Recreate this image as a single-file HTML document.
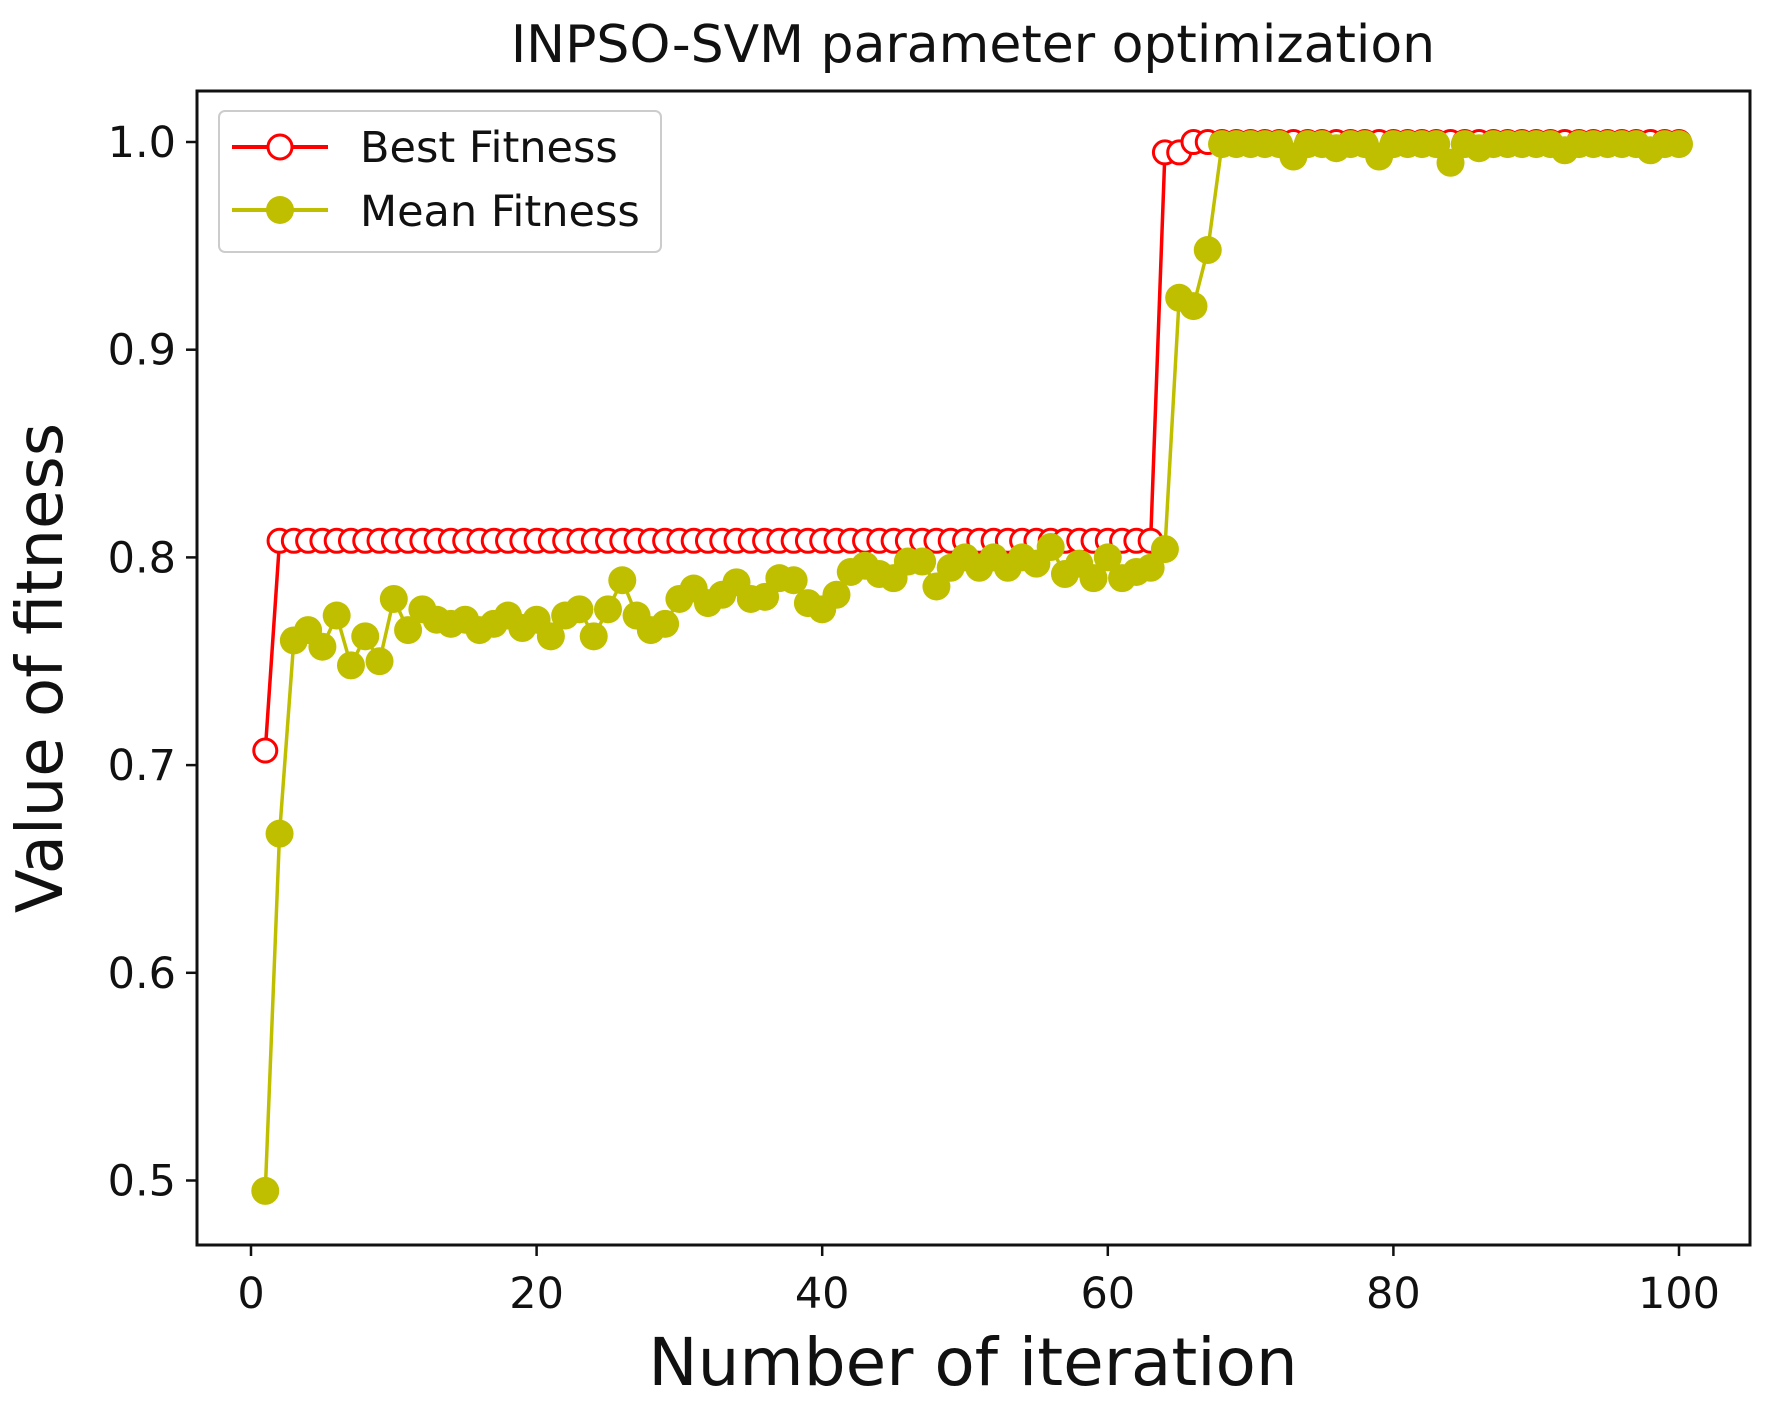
<!DOCTYPE html>
<html><head><meta charset="utf-8"><style>
html,body{margin:0;padding:0;background:#fff;}
svg{display:block;font-family:"DejaVu Sans","Liberation Sans",sans-serif;}
</style></head><body>
<svg id="s" width="1768" height="1406" viewBox="0 0 1768 1406" xmlns="http://www.w3.org/2000/svg">
<rect width="1768" height="1406" fill="#fff"/>
<text x="973" y="62" font-size="52" text-anchor="middle" fill="#111">INPSO-SVM parameter optimization</text>
<g id="plot"></g>
<rect x="197" y="91" width="1553" height="1154" fill="none" stroke="#111" stroke-width="3"/>
<g id="ticks" stroke="#111" stroke-width="2.5"></g>
<g id="labels" font-size="43" fill="#111"></g>
<text x="973" y="1385" font-size="66" text-anchor="middle" fill="#111">Number of iteration</text>
<text transform="translate(62,668) rotate(-90)" font-size="64" text-anchor="middle" fill="#111">Value of fitness</text>
<rect x="219" y="111" width="442" height="141" rx="6" fill="#fff" fill-opacity="0.9" stroke="#ccc" stroke-width="2"/>
<line x1="232" y1="147" x2="328" y2="147" stroke="#f00" stroke-width="4"/>
<circle cx="280" cy="147" r="12" fill="#fff" stroke="#f00" stroke-width="3"/>
<line x1="232" y1="210" x2="328" y2="210" stroke="#bfbf00" stroke-width="4"/>
<circle cx="280" cy="210" r="14" fill="#bfbf00"/>
<text x="360" y="162" font-size="43" fill="#111">Best Fitness</text>
<text x="360" y="226" font-size="43" fill="#111">Mean Fitness</text>
</svg>
<script>
var NS="http://www.w3.org/2000/svg";
function X(v){return 251+v*14.28;}
function Y(v){return 142+(1-v)*2077;}
function el(p,t,a){var e=document.createElementNS(NS,t);for(var k in a)e.setAttribute(k,a[k]);p.appendChild(e);return e;}
var plot=document.getElementById('plot'),ticks=document.getElementById('ticks'),labels=document.getElementById('labels');
[0,20,40,60,80,100].forEach(function(v){el(ticks,'line',{x1:X(v),y1:1245,x2:X(v),y2:1256});var t=el(labels,'text',{x:X(v),y:1308,'text-anchor':'middle'});t.textContent=v;});
[0.5,0.6,0.7,0.8,0.9,1.0].forEach(function(v){el(ticks,'line',{x1:186,y1:Y(v),x2:197,y2:Y(v)});var t=el(labels,'text',{x:176,y:Y(v)+15,'text-anchor':'end'});t.textContent=v.toFixed(1);});
var best=[];for(var i=1;i<=100;i++){best.push(i==1?0.707:i<=63?0.808:i<=65?0.995:1.0);}
var mean=[0.495,0.667,0.760,0.765,0.757,0.772,0.748,0.762,0.750,0.780,0.765,0.775,0.770,0.768,0.770,0.765,0.768,0.772,0.766,0.770,0.762,0.772,0.775,0.762,0.775,0.789,0.772,0.765,0.768,0.780,0.785,0.778,0.782,0.788,0.780,0.781,0.790,0.789,0.778,0.775,0.782,0.793,0.796,0.792,0.790,0.798,0.798,0.786,0.795,0.800,0.795,0.800,0.795,0.800,0.797,0.805,0.792,0.797,0.790,0.800,0.790,0.793,0.795,0.804,0.925,0.921,0.948];
var dips={73:0.993,79:0.993,84:0.990,92:0.996,98:0.996,76:0.997,86:0.997};
for(var i=68;i<=100;i++){mean.push(dips[i]||0.999);}
function pts(a){return a.map(function(v,i){return X(i+1)+','+Y(v);}).join(' ');}
el(plot,'polyline',{points:pts(best),fill:'none',stroke:'#f00','stroke-width':3.5});
best.forEach(function(v,i){el(plot,'circle',{cx:X(i+1),cy:Y(v),r:11.5,fill:'#fff',stroke:'#f00','stroke-width':3});});
el(plot,'polyline',{points:pts(mean),fill:'none',stroke:'#bfbf00','stroke-width':3.5});
mean.forEach(function(v,i){el(plot,'circle',{cx:X(i+1),cy:Y(v),r:14,fill:'#bfbf00'});});
</script>
</body></html>
